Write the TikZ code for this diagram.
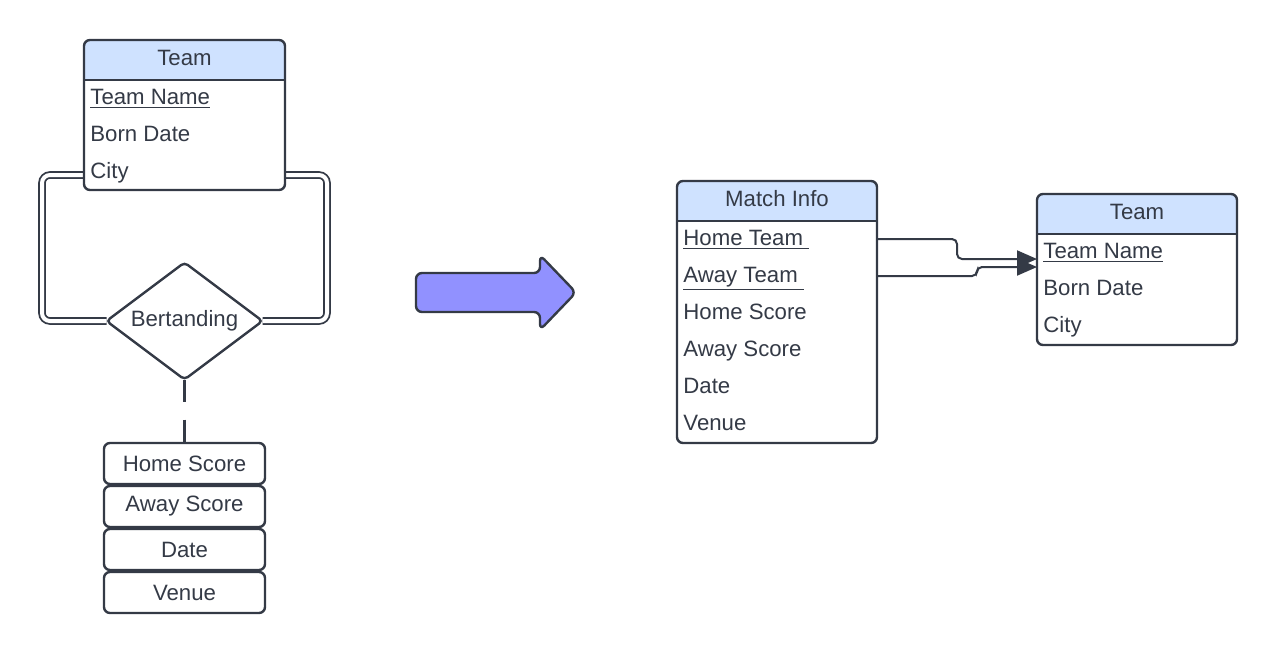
\documentclass[tikz,border=0pt]{standalone}
\usepackage{fontspec}
\setmainfont{Liberation Sans}
\usetikzlibrary{positioning,shapes.geometric,arrows.meta,backgrounds}
\definecolor{ink}{RGB}{52,58,70}
\definecolor{hdrblue}{RGB}{207,226,255}
\definecolor{convblue}{RGB}{145,145,255}

\begin{document}
\begin{tikzpicture}[x=0.5pt,y=-0.5pt,
  font=\fontsize{11.1}{13}\selectfont, text=ink,
  % entity tables: shaded title band over a white body
  ent/.style={draw=ink, line width=1.2pt, rounded corners=3pt, fill=white,
              inner sep=0pt, outer sep=0pt,
              path picture={
                \fill[hdrblue, sharp corners] (path picture bounding box.north west)
                  rectangle ([yshift=-20pt]path picture bounding box.north east);
                \draw[ink, line width=1.2pt, sharp corners]
                  ([yshift=-20pt]path picture bounding box.north west)
                  -- ([yshift=-20pt]path picture bounding box.north east);}},
  hd/.style={anchor=base, inner sep=0pt},               % table title
  fld/.style={anchor=base west, inner sep=0pt},         % table row
  rel/.style={diamond, draw=ink, line width=1.2pt, fill=white, rounded corners=2pt,
              aspect=1.33, minimum width=78pt, minimum height=58.5pt,
              inner sep=0pt, outer sep=0pt},
  att/.style={draw=ink, line width=1.2pt, rounded corners=3pt, fill=white,
              minimum width=80.5pt, minimum height=20.5pt, inner sep=0pt, outer sep=0pt},
  total/.style={draw=ink, line width=0.9pt, double=white, double distance=2pt,
                rounded corners=4pt},                   % total participation
  part/.style={draw=ink, line width=1.2pt, dash pattern=on 11pt off 9pt},
  fk/.style={draw=ink, line width=1pt, rounded corners=2.5pt,
             -{Triangle[length=10pt,width=8.5pt]}},     % foreign key reference
  conv/.style={draw=ink, line width=1.2pt, fill=convblue, rounded corners=3pt,
               line join=round},
  ]
  \useasboundingbox (0,0) rectangle (1277,655);
  % ---- ER side: entity, relationship, its attributes ------------------------------
  \node[ent, minimum width=100.5pt, minimum height=75pt] (teamL) at (184.5,115) {};
  \node[hd]  (teamLhd)   at ([yshift=-12.5pt]teamL.north) {Team};
  \node[fld] (teamLname) at ([xshift=3pt,yshift=-32pt]teamL.north west) {\underline{Team Name}};
  \node[fld] (teamLborn) at ([xshift=3pt,yshift=-50.5pt]teamL.north west) {Born Date};
  \node[fld] (teamLcity) at ([xshift=3pt,yshift=-69pt]teamL.north west) {City};
  \node[rel] (bert) at (184.5,321) {Bertanding};
  \node[att] (hs) at (184.5,463.5) {Home Score};
  \node[att, below=1pt of hs] (as)    {Away Score};
  \node[att, below=1pt of as] (dt)    {Date};
  \node[att, below=1pt of dt] (venue) {Venue};
  \begin{scope}[on background layer]
    \draw[total] ([yshift=7.5pt]teamL.south west) -- ++(-21pt,0) |- (bert.west);
    \draw[total] ([yshift=7.5pt]teamL.south east) -- ++(21pt,0)  |- (bert.east);
  \end{scope}
  \draw[part] (bert.south) -- (hs.north);
  % ---- mapping arrow ----------------------------------------------------------------
  \draw[conv] (416,273) -- (540,273) -- (540,255) -- (576,292.5)
    -- (540,330) -- (540,312) -- (416,312) -- cycle;
  % ---- relational side: tables --------------------------------------------------------
  \node[ent, minimum width=100pt, minimum height=131pt] (mi) at (777,312) {};
  \node[hd]  (mihd)    at ([yshift=-12.5pt]mi.north) {Match Info};
  \node[fld] (mihome)  at ([xshift=3pt,yshift=-32pt]mi.north west)   {\underline{Home Team\ }};
  \node[fld] (miaway)  at ([xshift=3pt,yshift=-50.5pt]mi.north west) {\underline{Away Team\ }};
  \node[fld] (mihs)    at ([xshift=3pt,yshift=-69pt]mi.north west)   {Home Score};
  \node[fld] (mias)    at ([xshift=3pt,yshift=-87.5pt]mi.north west) {Away Score};
  \node[fld] (midate)  at ([xshift=3pt,yshift=-106pt]mi.north west)  {Date};
  \node[fld] (mivenue) at ([xshift=3pt,yshift=-124.5pt]mi.north west){Venue};
  \node[ent, minimum width=100pt, minimum height=75.5pt] (teamR) at (1137,269.5) {};
  \node[hd]  (teamRhd)   at ([yshift=-12.5pt]teamR.north) {Team};
  \node[fld] (teamRname) at ([xshift=3pt,yshift=-32pt]teamR.north west) {\underline{Team Name}};
  \node[fld] (teamRborn) at ([xshift=3pt,yshift=-50.5pt]teamR.north west) {Born Date};
  \node[fld] (teamRcity) at ([xshift=3pt,yshift=-69pt]teamR.north west) {City};
  % ---- both keys point at Team ------------------------------------------------------
  \draw[fk] ([yshift=36.5pt]mi.east) -- ++(40pt,0) |- ([yshift=5.25pt]teamR.west);
  \draw[fk] ([yshift=18pt]mi.east)   -- ++(50pt,0) |- ([yshift=1.25pt]teamR.west);
\end{tikzpicture}
\end{document}
